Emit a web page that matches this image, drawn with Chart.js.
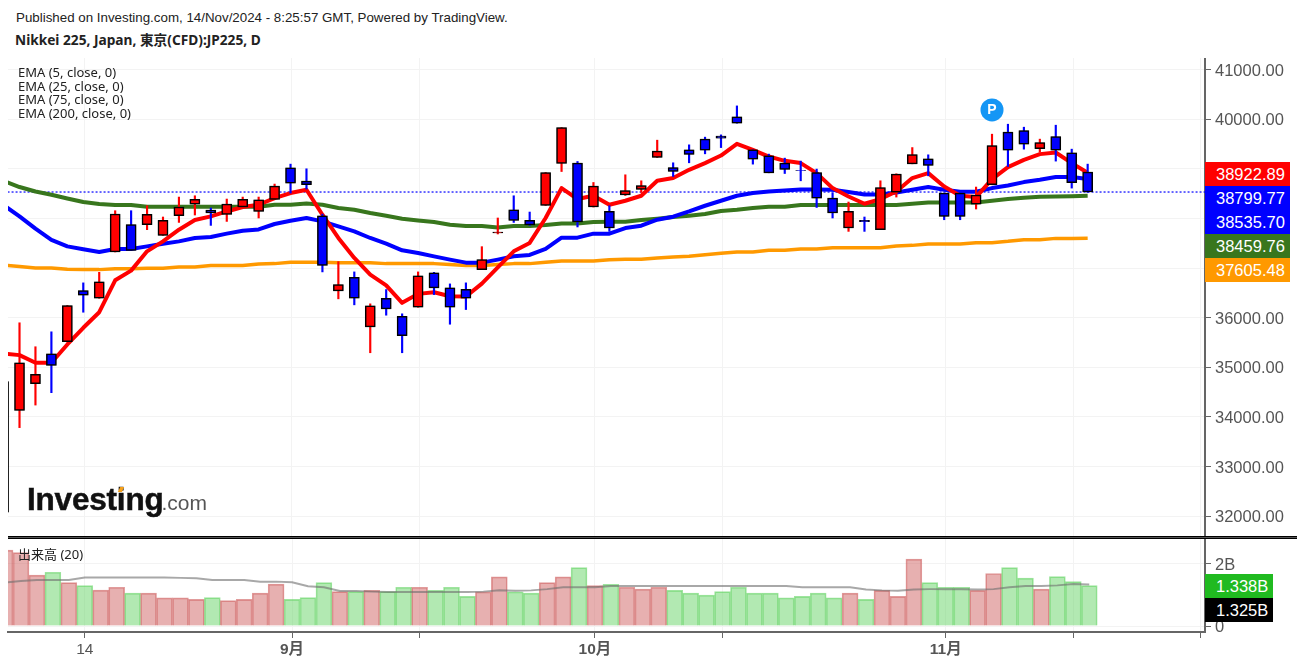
<!DOCTYPE html>
<html>
<head>
<meta charset="utf-8">
<title>Nikkei 225</title>
<script src="https://cdn.jsdelivr.net/npm/chart.js@4"></script>
<style>
    html, body { margin: 0; padding: 0; background: #fff; overflow: hidden; }
    #page { position: relative; width: 1297px; height: 665px; font-family: "Liberation Sans", "Noto Sans CJK JP", sans-serif; }
    #page canvas { position: absolute; left: 0; }
    #mainCanvas { top: 58px; }
    #volumeCanvas { top: 538px; }
    .abs { position: absolute; white-space: nowrap; }
    #published { left: 16px; top: 10px; font-size: 13.34px; line-height: 15px; color: #222; }
    #title { left: 15px; top: 32px; font: bold 13.7px/15px "Noto Sans", "Noto Sans CJK JP", sans-serif; color: #222; }
    #legend { left: 18px; top: 66px; font: 13px/13.7px "Noto Sans", sans-serif; color: #222; }
    #volumeTitle { left: 18px; top: 546px; font: 13px/16px "Noto Sans", "Noto Sans CJK JP", sans-serif; color: #222; }
    #separator { left: 8px; top: 536px; width: 1289px; height: 1px; background: #555; border-top: 1px solid #000; border-bottom: 1px solid #000; }
    #logo { left: 27px; top: 481px; font-weight: bold; font-size: 31.5px; line-height: 36px; letter-spacing: -0.2px; color: #111; -webkit-text-stroke: 0.5px #111; }
    #logo span { font-weight: normal; font-size: 21px; letter-spacing: 0; color: #555; -webkit-text-stroke: 0; margin-left: -2px; }
    #logoMark { left: 119px; top: 487px; width: 4px; height: 5px; background: #f7a11a; transform: skewX(-25deg); }
    .tag { height: 24px; line-height: 24px; padding-left: 11px; box-sizing: border-box; color: #fff; font-size: 16.5px; }
</style>
</head>
<body>
<div id="page">
    <canvas id="mainCanvas" width="1297" height="478"></canvas>
    <canvas id="volumeCanvas" width="1297" height="127"></canvas>
    <div class="abs" id="published">Published on Investing.com, 14/Nov/2024 - 8:25:57 GMT, Powered by TradingView.</div>
    <div class="abs" id="title">Nikkei 225, Japan, 東京(CFD):JP225, D</div>
    <div class="abs" id="legend"></div>
    <div class="abs" id="volumeTitle">出来高 (20)</div>
    <div class="abs" id="separator"></div>
    <div class="abs" id="logo">Investing<span>.com</span></div>
    <div class="abs" id="logoMark"></div>
</div>
<script>
// дневные свечи, индекс 0 почти весь срезан левым краем
const opens = [32080, 34134, 34671, 35275, 35516, 36549, 36394, 37327, 37877, 37877,
    37661, 38058, 38293, 38173, 38084, 38233, 38144, 38386, 39024, 38756,
    38058, 36543, 36816, 35818, 36394, 36031, 36213, 36905, 36603, 36575,
    36971, 37710, 38179, 37963, 38265, 39110, 39119, 38233, 38144, 38475,
    38587, 39231, 39030, 39386, 39602, 39662, 40050, 39386, 39265, 39119,
    38970, 38929, 38414, 37810, 37963, 37776, 38535, 39104, 39205, 38515,
    38515, 38293, 38682, 39742, 39775, 39412, 39654, 39326, 38937];
const highs = [34715, 35899, 35416, 35717, 36247, 36704, 36917, 38159, 38159, 38259,
    38032, 38434, 38460, 38213, 38394, 38434, 38434, 38696, 39098, 39004,
    38090, 37132, 36925, 36281, 36569, 36080, 36925, 36917, 36683, 36704,
    37434, 38012, 38460, 38132, 38929, 39835, 39151, 38728, 38259, 38883,
    38762, 39581, 39125, 39487, 39642, 39688, 40272, 39386, 39300, 39219,
    39159, 38998, 38515, 38334, 38032, 38762, 38903, 39432, 39286, 38515,
    38515, 38636, 39702, 39903, 39843, 39602, 39883, 39400, 39098];
const lows = [32080, 33785, 34240, 34490, 35516, 36112, 36394, 37327, 37360, 37776,
    37661, 37923, 38072, 37863, 37943, 38213, 38012, 38380, 38515, 38595,
    36925, 36382, 36261, 35295, 36052, 35295, 36213, 36468, 35870, 36166,
    36971, 37690, 37923, 37863, 38265, 38949, 37831, 38233, 37742, 38466,
    38527, 39231, 38849, 39125, 39306, 39432, 39924, 39098, 38923, 38909,
    38762, 38225, 38012, 37742, 37742, 37776, 38434, 39104, 38863, 37977,
    37977, 38193, 38682, 39050, 39400, 39340, 39159, 38615, 38527];
const closes = [34715, 35094, 34858, 35039, 36247, 36454, 36724, 38092, 37360, 38084,
    37963, 38233, 38386, 38112, 38293, 38386, 38380, 38656, 38716, 38682,
    37058, 36669, 36394, 36241, 36180, 35637, 36844, 36603, 36213, 36394,
    37172, 37730, 37963, 37871, 38929, 39835, 37931, 38656, 37810, 38567,
    38668, 39360, 38949, 39292, 39380, 39622, 39924, 39199, 38923, 38990,
    38964, 38414, 38112, 38144, 37937, 38627, 38897, 39292, 39070, 38044,
    38044, 38475, 39473, 39380, 39501, 39533, 39380, 38722, 38535.70];

const ema5 = [35281, 35247, 35094, 35094, 35462, 35798, 36112, 36756, 36951, 37340,
    37541, 37776, 37971, 38044, 38144, 38233, 38279, 38414, 38515, 38581,
    38078, 37609, 37207, 36871, 36655, 36301, 36482, 36514, 36434, 36428,
    36689, 37017, 37340, 37509, 38012, 38615, 38394, 38460, 38279, 38360,
    38460, 38762, 38817, 38984, 39119, 39271, 39507, 39386, 39251, 39165,
    39119, 38917, 38615, 38446, 38299, 38394, 38547, 38817, 38917, 38648,
    38460, 38434, 38797, 39038, 39185, 39300, 39332, 39119, 38922.89];
const ema25 = [38273, 38044, 37796, 37569, 37440, 37380, 37327, 37388, 37388, 37440,
    37494, 37541, 37609, 37629, 37696, 37756, 37782, 37891, 37957, 38012,
    37943, 37843, 37742, 37609, 37494, 37360, 37307, 37239, 37172, 37112,
    37112, 37172, 37239, 37267, 37388, 37615, 37615, 37696, 37696, 37810,
    37857, 37977, 38038, 38144, 38259, 38360, 38460, 38515, 38547, 38567,
    38587, 38587, 38581, 38535, 38487, 38487, 38527, 38581, 38636, 38581,
    38541, 38541, 38615, 38668, 38736, 38782, 38837, 38837, 38799.77];
const ema75 = [38762, 38636, 38547, 38481, 38406, 38334, 38293, 38273, 38273, 38239,
    38239, 38239, 38239, 38239, 38239, 38239, 38239, 38279, 38279, 38305,
    38279, 38213, 38179, 38112, 38058, 37998, 37963, 37931, 37877, 37851,
    37851, 37822, 37851, 37851, 37871, 37903, 37903, 37931, 37937, 37937,
    37971, 37998, 38032, 38058, 38092, 38153, 38179, 38213, 38239, 38239,
    38273, 38273, 38273, 38273, 38273, 38273, 38273, 38299, 38326, 38326,
    38326, 38326, 38360, 38394, 38420, 38440, 38445, 38452, 38459.76];
const ema200 = [37062, 37032, 37005, 37005, 36977, 36971, 36971, 36991, 36991, 36997,
    36997, 37026, 37026, 37052, 37052, 37052, 37086, 37092, 37118, 37118,
    37118, 37112, 37112, 37112, 37092, 37092, 37092, 37092, 37072, 37052,
    37052, 37072, 37092, 37092, 37118, 37146, 37146, 37146, 37172, 37178,
    37178, 37207, 37227, 37239, 37273, 37299, 37327, 37327, 37360, 37360,
    37388, 37388, 37414, 37414, 37414, 37414, 37448, 37460, 37488, 37488,
    37488, 37515, 37515, 37541, 37575, 37575, 37601, 37601, 37605.48];

const volumes = [2.43, 2.35, 1.63, 1.72, 1.39, 1.29, 1.15, 1.24, 1.05, 1.05,
    0.90, 0.90, 0.85, 0.91, 0.81, 0.85, 1.05, 1.34, 0.85, 0.91,
    1.39, 1.10, 1.10, 1.14, 1.10, 1.24, 1.24, 1.14, 1.24, 0.95,
    1.09, 1.57, 1.09, 1.05, 1.39, 1.57, 1.87, 1.29, 1.33, 1.24,
    1.18, 1.24, 1.14, 1.05, 0.99, 1.10, 1.24, 1.05, 1.05, 0.90,
    0.95, 1.05, 0.90, 1.05, 0.85, 1.14, 0.95, 2.14, 1.39, 1.24,
    1.24, 1.14, 1.68, 1.87, 1.53, 1.18, 1.58, 1.42, 1.29];
const volumeMa = [1.39, 1.44, 1.47, 1.47, 1.47, 1.55, 1.55, 1.55, 1.55, 1.55,
    1.55, 1.54, 1.53, 1.47, 1.47, 1.47, 1.42, 1.42, 1.40, 1.27,
    1.24, 1.12, 1.12, 1.10, 1.09, 1.09, 1.09, 1.09, 1.09, 1.09,
    1.10, 1.14, 1.13, 1.14, 1.18, 1.24, 1.24, 1.24, 1.28, 1.28,
    1.28, 1.28, 1.28, 1.28, 1.28, 1.28, 1.28, 1.28, 1.28, 1.28,
    1.24, 1.24, 1.24, 1.24, 1.17, 1.14, 1.13, 1.17, 1.18, 1.18,
    1.18, 1.17, 1.18, 1.24, 1.28, 1.28, 1.30, 1.34, 1.33];

const lastClose = 38535.70;
const pointIndex = [62];
const pointValue = [40190];

const priceTicks = [41000, 40000, 39000, 38000, 37000, 36000, 35000, 34000, 33000, 32000];
const volumeTicks = [2, 0];
const timeTickIndex = [5, 18, 26, 37, 45, 59, 67, 75];
const timeTickLabels = ['14', '9月', '', '10月', '', '11月', '', ''];
const boldTimeLabels = ['9月', '10月', '11月'];

const legendLabels = ['EMA (5, close, 0)', 'EMA (25, close, 0)', 'EMA (75, close, 0)', 'EMA (200, close, 0)'];
const priceTags = ['38922.89', '38799.77', '38535.70', '38459.76', '37605.48'];
const priceTagColors = ['#ff0000', '#0000ff', '#0000ff', '#38761d', '#ff9900'];
const volumeTags = ['1.338B', '1.325B'];
const volumeTagColors = ['#20ba20', '#000000'];

const FONT = '"Liberation Sans", "Noto Sans CJK JP", sans-serif';
const AXIS = '#666666';
const GRID = '#f3f3f3';

const isUp = i => closes[i] >= opens[i];
const series = values => values.map((y, x) => ({ x, y }));

function emaLine(label, data, color, order, width) {
    return {
        type: 'line', label, data: series(data), borderColor: color, borderWidth: width,
        pointRadius: 0, tension: 0, order, clip: 0, borderJoinStyle: 'round', borderCapStyle: 'butt'
    };
}

// Область графика должна занимать весь холст, без запаса под подписи
function fixBox(width, height) {
    return s => {
        if (width !== null) s.width = width;
        if (height !== null) s.height = height;
        s.paddingTop = 0; s.paddingBottom = 0; s.paddingLeft = 0; s.paddingRight = 0;
    };
}

// Чуть размытая серая кайма вокруг тел свечей
const bodyShadow = {
    id: 'bodyShadow',
    beforeDatasetDraw(chart, args) {
        if (chart.data.datasets[args.index].label !== 'body') return;
        chart.ctx.save();
        chart.ctx.shadowColor = 'rgba(0, 0, 0, 0.55)';
        chart.ctx.shadowBlur = 2;
    },
    afterDatasetDraw(chart, args) {
        if (chart.data.datasets[args.index].label === 'body') chart.ctx.restore();
    }
};

// Буква P на кружке
const markerLetter = {
    id: 'markerLetter',
    afterDatasetsDraw(chart) {
        const index = chart.data.datasets.findIndex(d => d.label === 'marker');
        if (index < 0) return;
        const pt = chart.getDatasetMeta(index).data[0];
        const ctx = chart.ctx;
        ctx.save();
        ctx.fillStyle = '#fff';
        ctx.font = 'bold 14px ' + FONT;
        ctx.textAlign = 'center';
        ctx.textBaseline = 'middle';
        ctx.fillText('P', pt.x, pt.y);
        ctx.restore();
    }
};

new Chart(document.getElementById('mainCanvas'), {
    type: 'bar',
    data: {
        datasets: [
            {
                label: 'body', order: 1, grouped: false, barThickness: 10,
                data: opens.map((o, i) => ({ x: i, y: [o, closes[i]] })),
                backgroundColor: ctx => (isUp(ctx.dataIndex) ? '#ff0000' : '#0000ff'),
                borderColor: '#000000', borderWidth: 1.5, borderSkipped: false
            },
            {
                label: 'wick', order: 2, grouped: false, barThickness: 1.5,
                data: lows.map((l, i) => ({ x: i, y: [l, highs[i]] })),
                backgroundColor: ctx => (isUp(ctx.dataIndex) ? '#ff0000' : '#0000ff'),
                borderWidth: 0
            },
            {
                type: 'line', label: 'marker', order: 0, showLine: false,
                data: pointIndex.map((x, i) => ({ x, y: pointValue[i] })),
                pointRadius: 11.5, pointBackgroundColor: '#1496f5', pointBorderWidth: 0
            },
            emaLine('EMA 5', ema5, '#ff0000', 3, 4),
            emaLine('EMA 25', ema25, '#0000ff', 4, 4),
            emaLine('EMA 75', ema75, '#38761d', 5, 4),
            emaLine('EMA 200', ema200, '#ff9900', 6, 3.5),
            {
                type: 'line', label: 'last', order: 7, pointRadius: 0,
                data: [{ x: 0, y: lastClose }, { x: 76, y: lastClose }],
                borderColor: '#0000ff', borderWidth: 1.2, borderDash: [2, 2]
            }
        ]
    },
    options: {
        responsive: false,
        animation: false,
        layout: { autoPadding: false, padding: { left: 8, right: 0, top: 0, bottom: 0 } },
        plugins: { legend: { display: false }, tooltip: { enabled: false } },
        scales: {
            x: {
                type: 'linear', min: 0.278, max: 75.36, offset: false,
                afterBuildTicks: s => { s.ticks = timeTickIndex.map(v => ({ value: v + 0.09 })); },
                afterFit: fixBox(null, 0),
                ticks: { display: false, autoSkip: false },
                grid: { color: GRID, drawTicks: false, offset: false },
                border: { display: false }
            },
            y: {
                position: 'right', min: 31600, max: 41238,
                afterBuildTicks: s => { s.ticks = priceTicks.map(v => ({ value: v })); },
                afterFit: fixBox(92, null),
                ticks: {
                    color: '#555555', font: { family: FONT, size: 16.5 }, padding: 4, autoSkip: false, labelOffset: 1.5,
                    callback: v => v.toFixed(2)
                },
                grid: { color: GRID, tickColor: AXIS, tickLength: 6 },
                border: { display: true, color: AXIS, width: 2 }
            }
        }
    },
    plugins: [bodyShadow, markerLetter]
});

new Chart(document.getElementById('volumeCanvas'), {
    type: 'bar',
    data: {
        datasets: [
            {
                type: 'line', label: 'volume ma', order: 1, data: series(volumeMa), clip: 0,
                borderColor: 'rgba(110, 110, 110, 0.6)', borderWidth: 2, pointRadius: 0, tension: 0
            },
            {
                label: 'volume', order: 2, grouped: false, barThickness: 15.93,
                data: series(volumes),
                backgroundColor: ctx => (isUp(ctx.dataIndex) ? 'rgba(205, 90, 90, 0.48)' : 'rgba(95, 210, 95, 0.48)'),
                borderColor: ctx => (isUp(ctx.dataIndex) ? 'rgba(205, 90, 90, 0.6)' : 'rgba(95, 210, 95, 0.6)'),
                borderWidth: 1, borderSkipped: 'bottom'
            }
        ]
    },
    options: {
        responsive: false,
        animation: false,
        layout: { autoPadding: false, padding: { left: 8, right: 0, top: 0, bottom: 0 } },
        plugins: { legend: { display: false }, tooltip: { enabled: false } },
        scales: {
            x: {
                type: 'linear', min: 0.184, max: 75.26, offset: false,
                afterBuildTicks: s => { s.ticks = timeTickIndex.map(v => ({ value: v })); },
                afterFit: fixBox(null, 33),
                ticks: {
                    color: '#555555', padding: 2, maxRotation: 0, autoSkip: false,
                    font: ctx => ({
                        family: FONT, size: 15.5,
                        weight: boldTimeLabels.includes(ctx.tick && ctx.tick.label) ? 'bold' : 'normal'
                    }),
                    callback: (v, i) => timeTickLabels[i]
                },
                grid: { color: GRID, tickColor: AXIS, tickLength: 6, offset: false },
                border: { display: true, color: AXIS, width: 2 }
            },
            y: {
                position: 'right', min: -0.192, max: 2.816,
                afterBuildTicks: s => { s.ticks = volumeTicks.map(v => ({ value: v })); },
                afterFit: fixBox(92, null),
                ticks: {
                    color: '#555555', font: { family: FONT, size: 16.5 }, padding: 4, autoSkip: false, labelOffset: 1.5,
                    callback: v => (v === 0 ? '0' : v + 'B')
                },
                grid: { color: GRID, tickColor: AXIS, tickLength: 6 },
                border: { display: true, color: AXIS, width: 2 }
            }
        }
    }
});

document.getElementById('legend').innerHTML = legendLabels.join('<br>');

const page = document.getElementById('page');
function addTags(labels, colors, top, width) {
    labels.forEach((text, i) => {
        const tag = document.createElement('div');
        tag.className = 'abs tag';
        tag.textContent = text;
        tag.style.left = '1205px';
        tag.style.top = (top + i * 24) + 'px';
        tag.style.width = width + 'px';
        tag.style.background = colors[i];
        page.appendChild(tag);
    });
}
addTags(priceTags, priceTagColors, 162, 85);
addTags(volumeTags, volumeTagColors, 573.5, 68);
</script>
</body>
</html>
